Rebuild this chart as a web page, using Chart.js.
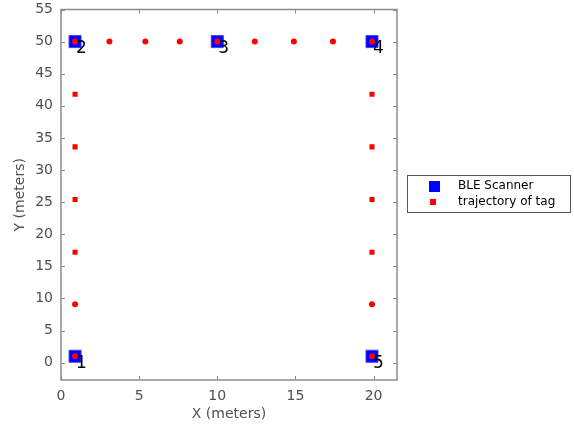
<!DOCTYPE html>
<html>
<head>
<meta charset="utf-8">
<script src="https://cdn.jsdelivr.net/npm/chart.js@4/dist/chart.umd.min.js"></script>
<style>
  html, body { margin: 0; padding: 0; background: #fff; }
  #wrap { width: 574px; height: 426px; position: relative; }
</style>
</head>
<body>
<div id="wrap"><canvas id="plot"></canvas></div>
<script>
// Scanner positions and labels
const scannerX = [0.9, 0.9, 10, 19.9, 19.9];
const scannerY = [1, 50, 50, 50, 1];
const scannerLabels = ['1', '2', '3', '4', '5'];

// Tag trajectory
const tagX = [0.9, 0.9, 0.9, 0.9, 0.9, 0.9, 0.9, 3.1, 5.4, 7.6, 10, 12.4, 14.9, 17.4, 19.9, 19.9, 19.9, 19.9, 19.9, 19.9, 19.9];
const tagY = [1, 9.1, 17.2, 25.4, 33.6, 41.8, 50, 50, 50, 50, 50, 50, 50, 50, 50, 41.8, 33.6, 25.4, 17.2, 9.1, 1];
const tagStyle = ['circle', 'circle', 'rect', 'rect', 'rect', 'rect', 'circle', 'circle', 'circle', 'circle', 'circle', 'circle', 'circle', 'circle', 'circle', 'rect', 'rect', 'rect', 'rect', 'circle', 'circle'];

const xTicks = [0, 5, 10, 15, 20];
const yTicks = [0, 5, 10, 15, 20, 25, 30, 35, 40, 45, 50, 55];

const legendNames = ['BLE Scanner', 'trajectory of tag'];

const FONT = 'DejaVu Sans';
const AXIS_GRAY = '#8c8c8c';
const TEXT_GRAY = '#505050';

// frame + inward ticks on all four sides, scanner numbers, legend box
const decorations = {
  id: 'decorations',
  afterDatasetsDraw(chart) {
    const ctx = chart.ctx;
    const a = chart.chartArea;
    const xs = chart.scales.x, ys = chart.scales.y;
    ctx.save();

    // numbers next to the scanners
    ctx.fillStyle = '#000';
    ctx.font = '17px "' + FONT + '"';
    ctx.textAlign = 'left';
    ctx.textBaseline = 'middle';
    scannerLabels.forEach((lbl, i) => {
      const px = xs.getPixelForValue(scannerX[i]);
      const py = ys.getPixelForValue(scannerY[i]);
      ctx.fillText(lbl, px + 1, py + 7);
    });

    // frame
    ctx.strokeStyle = AXIS_GRAY;
    ctx.lineWidth = 1.5;
    ctx.strokeRect(a.left, a.top, a.right - a.left, a.bottom - a.top);

    // inward ticks
    ctx.beginPath();
    xTicks.forEach(v => {
      const px = Math.round(xs.getPixelForValue(v)) + 0.5;
      ctx.moveTo(px, a.bottom); ctx.lineTo(px, a.bottom - 4);
      ctx.moveTo(px, a.top); ctx.lineTo(px, a.top + 4);
    });
    yTicks.forEach(v => {
      const py = Math.round(ys.getPixelForValue(v)) + 0.5;
      ctx.moveTo(a.left, py); ctx.lineTo(a.left + 4, py);
      ctx.moveTo(a.right, py); ctx.lineTo(a.right - 4, py);
    });
    ctx.lineWidth = 1;
    ctx.stroke();

    // legend
    const lx = 407, ly = 175, lw = 163, lh = 37;
    ctx.fillStyle = '#fff';
    ctx.fillRect(lx, ly, lw, lh);
    ctx.strokeStyle = '#555';
    ctx.lineWidth = 1;
    ctx.strokeRect(lx + 0.5, ly + 0.5, lw, lh);
    ctx.fillStyle = '#0000ff';
    ctx.fillRect(429, 181, 11, 11);
    ctx.fillStyle = '#ff0000';
    ctx.fillRect(430, 199, 6, 6);
    ctx.fillStyle = '#000';
    ctx.font = '12px "' + FONT + '"';
    ctx.textBaseline = 'middle';
    ctx.fillText(legendNames[0], 458, 186);
    ctx.fillText(legendNames[1], 458, 202);
    ctx.restore();
  }
};

new Chart(document.getElementById('plot'), {
  type: 'scatter',
  data: {
    datasets: [
      {
        label: legendNames[0],
        data: scannerX.map((x, i) => ({ x: x, y: scannerY[i] })),
        pointStyle: 'rect',
        pointRadius: 8.5,
        backgroundColor: '#0000ff',
        borderColor: '#3d3dff',
        borderWidth: 1,
        order: 2
      },
      {
        label: legendNames[1],
        data: tagX.map((x, i) => ({ x: x, y: tagY[i] })),
        pointStyle: tagStyle,
        pointRadius: tagStyle.map(s => s === 'rect' ? 3.6 : 3),
        backgroundColor: '#ff0000',
        borderColor: '#ff0000',
        borderWidth: 0,
        order: 1
      }
    ]
  },
  options: {
    responsive: true,
    maintainAspectRatio: false,
    animation: false,
    layout: { padding: { left: 12, right: 177, top: 9, bottom: 0 } },
    plugins: {
      legend: { display: false },
      tooltip: { enabled: false }
    },
    scales: {
      x: {
        type: 'linear',
        min: 0,
        max: 21.5,
        grid: { display: false, drawTicks: false },
        border: { display: false },
        ticks: {
          stepSize: 5,
          includeBounds: false,
          padding: 8,
          color: TEXT_GRAY,
          font: { family: FONT, size: 14 }
        },
        title: {
          display: true,
          text: 'X (meters)',
          color: TEXT_GRAY,
          font: { family: FONT, size: 14 },
          padding: { top: 1, bottom: 3 }
        },
        afterFit(scale) {
          scale.height = 46;
          scale.paddingLeft = 0;
          scale.paddingRight = 0;
        }
      },
      y: {
        type: 'linear',
        min: -2.7,
        max: 55,
        grid: { display: false, drawTicks: false },
        border: { display: false },
        ticks: {
          stepSize: 5,
          includeBounds: false,
          padding: 8,
          color: TEXT_GRAY,
          font: { family: FONT, size: 14 }
        },
        title: {
          display: true,
          text: 'Y (meters)',
          color: TEXT_GRAY,
          font: { family: FONT, size: 14 },
          padding: { top: 0, bottom: 4 }
        },
        afterFit(scale) {
          scale.width = 49;
          scale.paddingTop = 0;
          scale.paddingBottom = 0;
        }
      }
    }
  },
  plugins: [decorations]
});
</script>
</body>
</html>
